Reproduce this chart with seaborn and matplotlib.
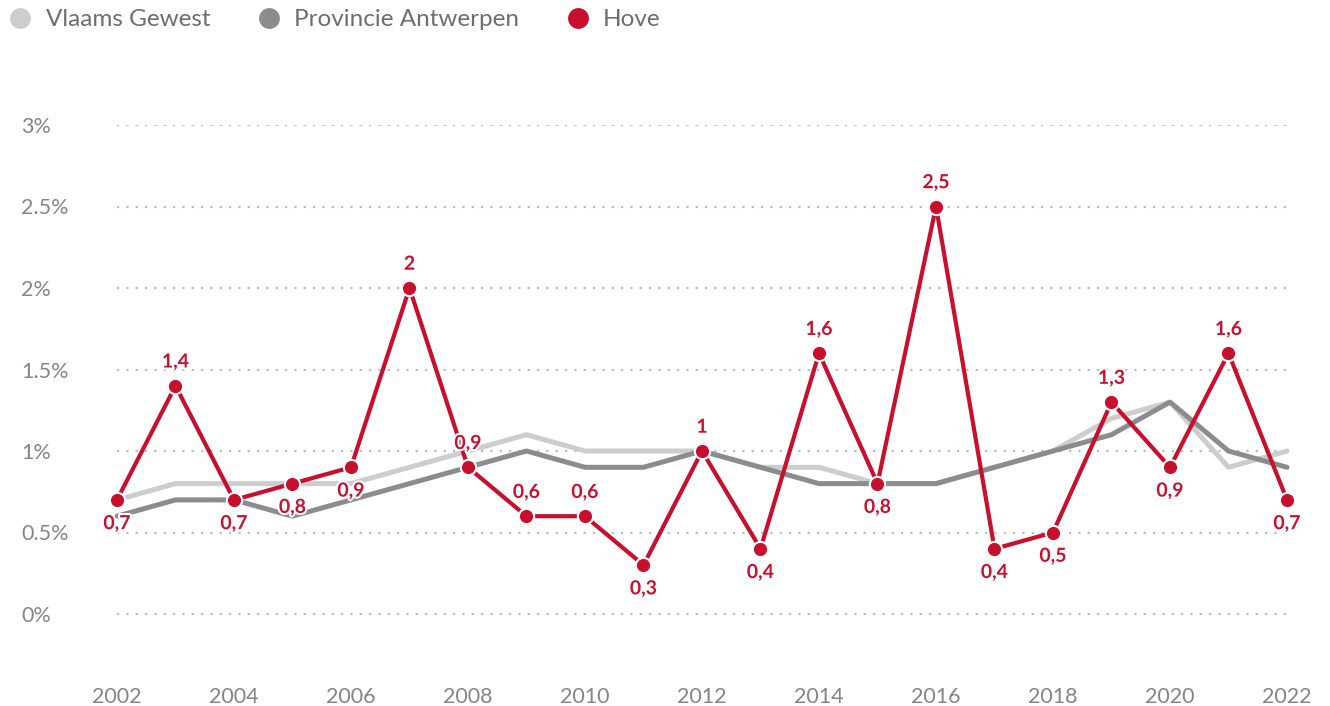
import pandas as pd
import matplotlib.pyplot as plt
import matplotlib.patheffects as pe
from matplotlib.lines import Line2D
import seaborn as sns

# data
years = list(range(2002, 2023))
vlaams_gewest = [0.7, 0.8, 0.8, 0.8, 0.8, 0.9, 1.0, 1.1, 1.0, 1.0, 1.0,
                 0.9, 0.9, 0.8, 0.8, 0.9, 1.0, 1.2, 1.3, 0.9, 1.0]
provincie_antwerpen = [0.6, 0.7, 0.7, 0.6, 0.7, 0.8, 0.9, 1.0, 0.9, 0.9, 1.0,
                       0.9, 0.8, 0.8, 0.8, 0.9, 1.0, 1.1, 1.3, 1.0, 0.9]
hove = [0.7, 1.4, 0.7, 0.8, 0.9, 2.0, 0.9, 0.6, 0.6, 0.3, 1.0,
        0.4, 1.6, 0.8, 2.5, 0.4, 0.5, 1.3, 0.9, 1.6, 0.7]
# label above (True) or below (False) the Hove point
label_above = [False, True, False, False, False, True, True, True, True, False, True,
               False, True, False, True, False, False, True, False, True, False]
y_ticks = [0, 0.5, 1, 1.5, 2, 2.5, 3]
y_tick_labels = ["0%", "0.5%", "1%", "1.5%", "2%", "2.5%", "3%"]
x_ticks = list(range(2002, 2023, 2))

c_vlaams = "#cdcdcd"
c_prov = "#8a8c8e"
c_hove = "#c8102e"
c_text = "#858585"

sns.set_style("white")
plt.rcParams['font.family'] = ['Lato', 'DejaVu Sans']

df = pd.DataFrame({
    "jaar": years * 3,
    "waarde": vlaams_gewest + provincie_antwerpen + hove,
    "reeks": ["Vlaams Gewest"] * len(years) + ["Provincie Antwerpen"] * len(years) + ["Hove"] * len(years),
})

fig = plt.figure(figsize=(13.3, 7.06), dpi=100)
ax = fig.add_axes([117 / 1330, 36 / 706, (1287 - 117) / 1330, (670 - 125) / 706])

for y in y_ticks:
    ax.axhline(y, color="#bdbdbd", lw=1.6, ls=(0, (1, 3.2)), zorder=0)

sns.lineplot(data=df[df.reeks == "Vlaams Gewest"], x="jaar", y="waarde", color=c_vlaams,
             lw=3.6, ax=ax, zorder=2, clip_on=False)
sns.lineplot(data=df[df.reeks == "Provincie Antwerpen"], x="jaar", y="waarde", color=c_prov,
             lw=3.6, ax=ax, zorder=3, clip_on=False)
sns.lineplot(data=df[df.reeks == "Hove"], x="jaar", y="waarde", color=c_hove,
             lw=3, marker="o", markersize=11, markeredgecolor="white", markeredgewidth=1.5,
             ax=ax, zorder=4, clip_on=False)

for x, v, up in zip(years, hove, label_above):
    txt = f"{v:g}".replace(".", ",")
    ax.annotate(txt, (x, v), xytext=(0, 11 if up else -11), textcoords="offset points",
                ha="center", va="bottom" if up else "top", color=c_hove,
                fontsize=14, fontweight="bold", zorder=5,
                path_effects=[pe.withStroke(linewidth=3, foreground="white")])

ax.set_xlim(2002, 2022)
ax.set_ylim((614 - 670) / 163, 3.0)
ax.set_yticks(y_ticks)
ax.set_yticklabels(y_tick_labels)
ax.set_xticks(x_ticks)
ax.set_xticklabels([str(x) for x in x_ticks])
ax.tick_params(axis="y", length=0, pad=69, labelsize=15.5, labelcolor=c_text)
ax.tick_params(axis="x", length=0, pad=12, labelsize=15.5, labelcolor=c_text)
for lab in ax.get_yticklabels():
    lab.set_horizontalalignment("left")
ax.set_xlabel("")
ax.set_ylabel("")
sns.despine(ax=ax, left=True, bottom=True)

handles = [Line2D([], [], ls="", marker="o", markersize=15, color=c, markeredgewidth=0)
           for c in (c_vlaams, c_prov, c_hove)]
leg = fig.legend(handles, ["Vlaams Gewest", "Provincie Antwerpen", "Hove"], loc="upper left",
                 bbox_to_anchor=(-0.012, 1.018), ncol=3, frameon=False, fontsize=17.5,
                 handletextpad=0.45, columnspacing=1.8, handlelength=1.2)
for t in leg.get_texts():
    t.set_color("#6e6e6e")

fig.savefig("out.png", dpi=100)
